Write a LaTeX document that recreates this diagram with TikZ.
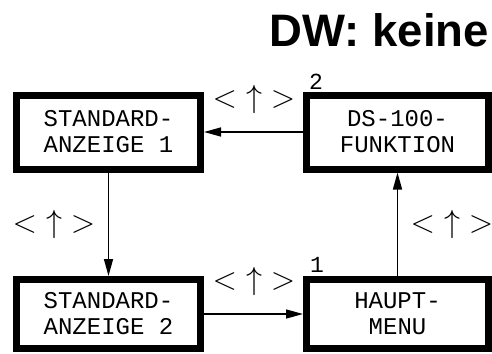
\documentclass[tikz,border=0pt]{standalone}
\usepackage{fix-cm}
\usepackage{fontspec}
\setmainfont{Liberation Sans}
\newfontfamily\plotfont{Liberation Mono}
\usetikzlibrary{arrows.meta}
\tikzset{
  menubox/.style={draw, line width=7pt, align=center, inner sep=0pt, font=\plotfont\fontsize{24}{26}\selectfont},
  cline/.style={-{Triangle[length=17pt,width=9pt]}, line width=1.5pt},
  keylabel/.style={font=\fontsize{32}{32}\selectfont, inner sep=0pt},
  numlabel/.style={font=\plotfont\fontsize{23}{23}\selectfont, inner sep=0pt},
}
\newcommand{\keyseq}{$\mathord{<}\uparrow\mathord{>}$}

\begin{document}
\begin{tikzpicture}[x=1pt,y=-1pt]
  \useasboundingbox (0,0) rectangle (492,353);
  \node[anchor=base east, font=\bfseries\fontsize{45.5}{46}\selectfont, inner sep=0pt] (title) at (489,46) {DW: keine};
  % menu boxes
  \node[menubox, minimum width=184pt, minimum height=74pt] (sa1) at (108.5,132) {STANDARD-\\ANZEIGE 1};
  \node[menubox, minimum width=182pt, minimum height=74pt] (ds) at (397.5,132) {DS-100-\\FUNKTION};
  \node[menubox, minimum width=184pt, minimum height=69pt] (sa2) at (108.5,314) {STANDARD-\\ANZEIGE 2};
  \node[menubox, minimum width=182pt, minimum height=69pt] (hm) at (397.5,314) {HAUPT-\\MENU};
  % transitions
  \draw[cline] (ds.west) -- (sa1.east);
  \draw[cline] (sa1.south) -- (sa2.north);
  \draw[cline] (sa2.east) -- (hm.west);
  \draw[cline] (hm.north) -- (ds.south);
  \node[keylabel] (ktop) at (254,99) {\keyseq};
  \node[keylabel] (kleft) at (54,224) {\keyseq};
  \node[keylabel] (kright) at (452,224) {\keyseq};
  \node[keylabel] (kbot) at (254,281) {\keyseq};
  \node[numlabel] (n2) at (316,82) {2};
  \node[numlabel] (n1) at (317,265) {1};
\end{tikzpicture}
\end{document}
